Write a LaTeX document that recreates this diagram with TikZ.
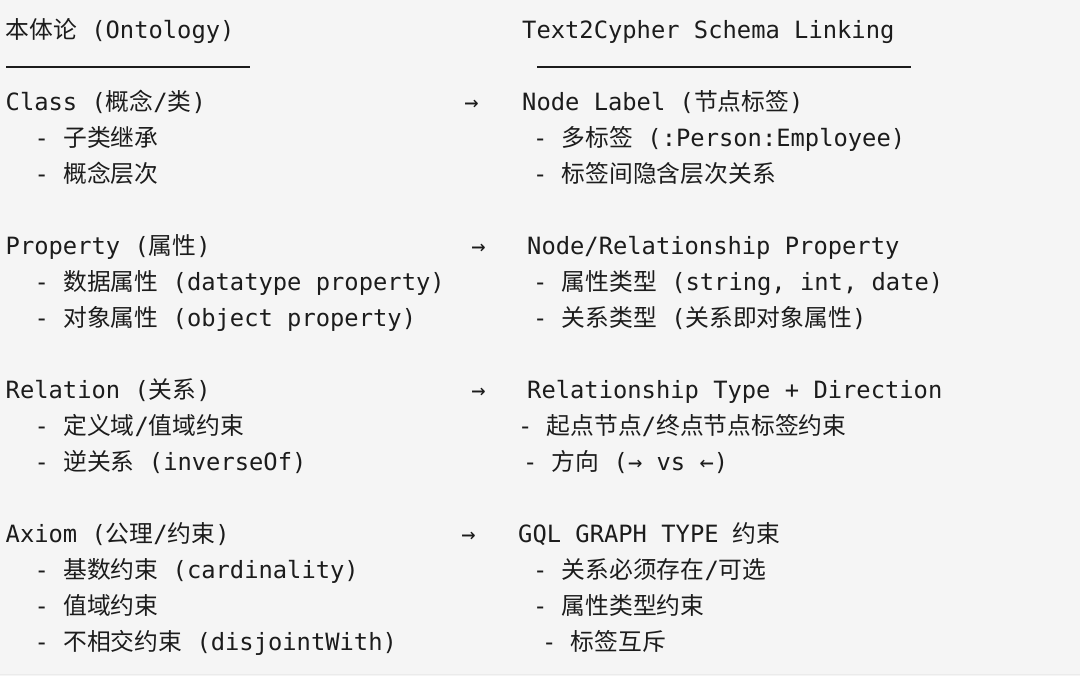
\documentclass[tikz,border=0pt]{standalone}
\usepackage{fontspec}
\setmonofont{DejaVu Sans Mono}
\newfontfamily\cjk{Noto Sans CJK SC}
\newcommand\zh[1]{{\cjk #1}}
\definecolor{ink}{HTML}{1C1C1C}
\definecolor{paper}{HTML}{F5F5F5}
\tikzset{txt/.style={anchor=base west,inner sep=0pt,text=ink,font=\ttfamily\fontsize{23.8}{28}\selectfont},
  rule/.style={draw=ink,line width=2pt}}
\begin{document}
\begin{tikzpicture}[x=1pt,y=-1pt]
   \fill[paper] (0,0) rectangle (1080,677); \draw[color=black!8,line width=1pt] (0,675)--(1080,675);
   \useasboundingbox (0,0) rectangle (1080,677);
   % headings
   \node[txt] (onto) at (5,39) {\zh{本体论} (Ontology)}; \node[txt] (t2c) at (522,39) {Text2Cypher Schema Linking};
   \draw[rule] (6,67)--(250,67); \draw[rule] (537,67)--(911,67);
   % class
   \node[txt] (cls) at (5,111) {Class (\zh{概念}/\zh{类})}; \node[txt] (ar1) at (464,111) {→}; \node[txt] (lbl) at (522,111) {Node Label (\zh{节点标签})};
   \node[txt] (cls1) at (34,147) {- \zh{子类继承}}; \node[txt] (cls2) at (34,183) {- \zh{概念层次}};
   \node[txt] (lbl1) at (533,147) {- \zh{多标签} (:Person:Employee)}; \node[txt] (lbl2) at (533,183) {- \zh{标签间隐含层次关系}};
   % property
   \node[txt] (prp) at (5,255) {Property (\zh{属性})}; \node[txt] (ar2) at (471,255) {→}; \node[txt] (nrp) at (527,255) {Node/Relationship Property};
   \node[txt] (prp1) at (34,291) {- \zh{数据属性} (datatype property)}; \node[txt] (prp2) at (34,327) {- \zh{对象属性} (object property)};
   \node[txt] (nrp1) at (533,291) {- \zh{属性类型} (string, int, date)}; \node[txt] (nrp2) at (533,327) {- \zh{关系类型} (\zh{关系即对象属性})};
   % relation
   \node[txt] (rel) at (5,399) {Relation (\zh{关系})}; \node[txt] (ar3) at (471,399) {→}; \node[txt] (rtd) at (527,399) {Relationship Type + Direction};
   \node[txt] (rel1) at (34,435) {- \zh{定义域}/\zh{值域约束}}; \node[txt] (rel2) at (34,471) {- \zh{逆关系} (inverseOf)};
   \node[txt] (rtd1) at (518,435) {- \zh{起点节点}/\zh{终点节点标签约束}}; \node[txt] (rtd2) at (523,471) {- \zh{方向} (→ vs ←)};
   % axiom
   \node[txt] (axm) at (5,543) {Axiom (\zh{公理}/\zh{约束})}; \node[txt] (ar4) at (461,543) {→}; \node[txt] (gql) at (518,543) {GQL GRAPH TYPE \zh{约束}};
   \node[txt] (axm1) at (34,579) {- \zh{基数约束} (cardinality)}; \node[txt] (axm2) at (34,615) {- \zh{值域约束}}; \node[txt] (axm3) at (34,651) {- \zh{不相交约束} (disjointWith)};
   \node[txt] (gql1) at (533,579) {- \zh{关系必须存在}/\zh{可选}}; \node[txt] (gql2) at (533,615) {- \zh{属性类型约束}}; \node[txt] (gql3) at (542,651) {- \zh{标签互斥}};
\end{tikzpicture}
\end{document}
